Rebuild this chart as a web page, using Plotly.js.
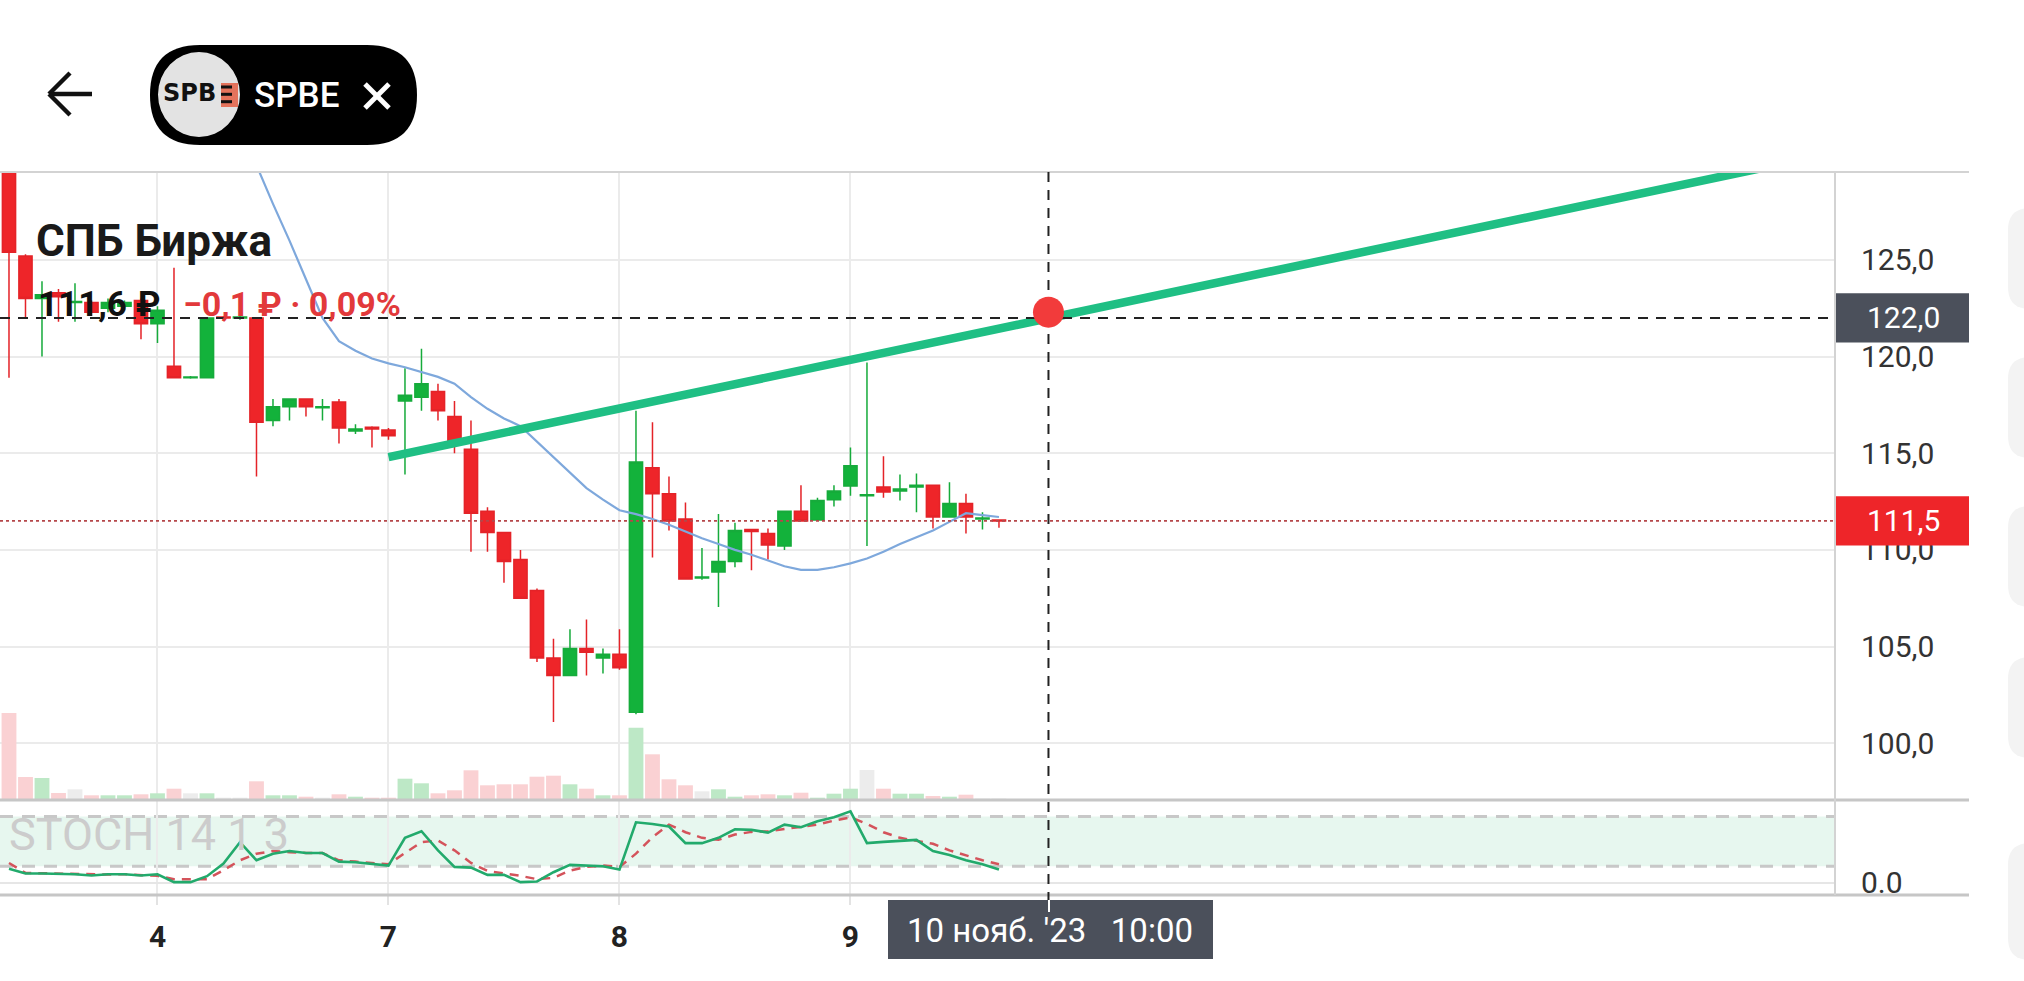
<!DOCTYPE html>
<html>
<head>
<meta charset="utf-8">
<script src="https://cdn.plot.ly/plotly-3.0.1.min.js"></script>
<style>
html,body{margin:0;padding:0;background:#fff;}
#chart{width:2024px;height:981px;}
</style>
</head>
<body>
<div id="chart"></div>
<script>
// ---------- DATA ----------
const candleIdx = [-9,-8,-7,-6,-5,-4,-3,-2,-1,0,1,2,3,4,5,6,7,8,9,10,11,12,13,14,15,16,17,18,19,20,21,22,23,24,25,26,27,28,29,30,31,32,33,34,35,36,37,38,39,40,41,42,43,44,45,46,47,48,49,50,51];
const openP  = [131.5,125.2,123.0,123.3,122.8,122.8,122.5,122.6,122.9,121.7,119.5,118.9,118.9,122.05,122.0,122.0,116.7,117.4,117.8,117.35,117.65,116.15,116.35,116.2,117.7,117.9,118.2,116.9,115.2,112.0,110.9,109.5,107.9,104.4,103.5,104.9,104.4,104.6,101.6,114.25,112.9,111.6,108.55,108.85,109.4,111.05,110.85,110.2,112.0,111.55,112.6,113.3,112.8,113.25,113.05,113.25,113.35,111.7,112.4,111.6,111.55];
const highP  = [132.0,125.3,123.9,123.5,123.8,122.9,123.0,122.9,123.0,122.6,124.6,119.0,122.0,122.1,122.1,122.0,117.8,117.8,117.8,117.8,117.8,116.5,116.4,116.3,119.4,120.4,118.6,117.7,116.7,112.2,110.9,110.0,108.0,105.4,105.9,106.4,104.9,105.9,117.2,116.6,113.8,112.45,110.1,111.85,111.4,111.05,111.1,112.0,113.35,112.7,113.35,115.3,119.7,114.85,113.9,113.95,113.35,113.5,112.9,111.95,111.55];
const lowP   = [118.9,122.0,120.0,121.8,121.8,122.1,122.3,122.4,120.9,120.7,118.9,118.85,118.9,121.9,121.9,113.8,116.4,116.7,116.9,116.7,115.5,116.0,115.3,115.7,113.9,117.2,116.7,115.0,109.9,109.9,108.3,107.5,104.2,101.1,103.5,103.5,103.6,103.8,101.5,109.6,111.0,108.5,108.45,107.05,109.1,108.95,109.5,110.0,111.5,111.5,112.25,112.8,110.2,112.7,112.55,111.95,111.1,111.7,110.85,111.05,111.15];
const closeP = [125.4,123.0,123.2,123.1,122.85,122.3,122.8,122.8,121.7,122.4,118.9,118.95,122.0,122.0,122.05,116.6,117.4,117.8,117.4,117.4,116.3,116.25,116.25,115.9,118.0,118.6,117.2,115.5,111.9,110.9,109.4,107.5,104.4,103.5,104.9,104.7,104.6,103.9,114.55,112.9,111.5,108.5,108.6,109.4,111.0,110.95,110.25,112.0,111.5,112.55,113.05,114.35,112.85,113.0,113.15,113.35,111.7,112.4,111.7,111.65,111.5];
const volume = [87,23,22,7,10.7,4.7,4.7,4.7,5.7,6.7,11.3,6.7,6.7,2.3,2.3,18.7,4.7,4.7,3.3,2.3,5.7,3.3,2.3,2.3,21.3,16.7,6.7,9.7,29.7,14.7,15.7,15.7,23.3,24.3,15.7,11.3,4.7,4.7,72.3,45.7,20.7,14.7,8.7,10.7,3.3,4.7,5.7,4.7,7.3,2.3,6.3,11.3,30,11.3,6.3,6.3,4,3.3,5.3,1.5,1.5];
const stochK = [17,11.2,11.2,11.2,10.4,8.8,10.4,10.4,8.8,10.4,0.8,0.8,8.0,23.2,49.1,27.2,35.2,38.4,36.0,36.0,25.6,24.8,22.4,20.8,54.3,62.3,39.2,19.2,18.4,9.6,9.6,0.8,1.6,12.8,21.6,20.8,20.0,16.0,73.1,71.1,67.9,47.9,47.9,54.3,64.7,63.9,60.7,70.3,67.1,74.3,79.1,86.3,47.9,49.5,50.3,51.9,38.4,33.5,27.2,22.4,16.0];
const stochD = [24,12.0,11.6,11.2,10.4,9.6,10.0,10.4,9.6,8.4,4.4,4.4,4.4,15.2,27.2,35.2,38.4,37.0,36.0,36.0,27.2,25.6,24.0,22.4,36.0,49.1,51.1,39.2,24.0,14.4,11.2,8.4,4.4,6.0,14.8,19.2,20.8,19.2,35.2,55.1,70.3,61.1,54.3,51.9,58.3,61.5,62.3,65.1,67.1,70.3,75.1,79.1,71.1,61.1,54.3,51.1,47.1,39.2,33.2,27.2,22.4];
const maIdx = [5,6,7,8,9,10,11,12,13,14,15,16,17,18,19,20,21,22,23,24,25,26,27,28,29,30,31,32,33,34,35,36,37,38,39,40,41,42,43,44,45,46,47,48,49,50,51];
const maVal = [131.8,129.9,127.9,126.0,124.0,122.0,120.8,120.3,119.9,119.65,119.45,119.2,118.95,118.6,117.9,117.3,116.8,116.4,115.6,114.85,114.0,113.2,112.6,112.05,111.85,111.6,111.3,110.95,110.6,110.3,110.0,109.75,109.45,109.15,108.97,108.97,109.1,109.3,109.55,109.9,110.3,110.65,111.0,111.45,111.9,111.8,111.7];
const trendIdx = [14, 100];
const trendVal = [114.8, 130.25];
const crossIdx = 54;
const crossPrice = 122.0;
const alertDotPrice = 122.3;
const lastPrice = 111.5;
const dayTickIdx = [0, 14, 28, 42];
const dayLabels = ['4', '7', '8', '9'];
const priceTicks = [100, 105, 110, 115, 120, 125];
const priceTickText = ['100,0', '105,0', '110,0', '115,0', '120,0', '125,0'];
const stochTicks = [0];
const stochTickText = ['0.0'];
const stochBands = [20, 80];
const titleText = 'СПБ Биржа';
const priceText = '111,6 ₽';
const changeText = '−0,1 ₽ · 0,09%';
const tickerText = 'SPBE';
const logoText = 'SPB';
const stochLabel = 'STOCH 14 1 3';
const crossDateText = "10 нояб. '23   10:00";
const crossPriceText = '122,0';
const lastPriceText = '111,5';

// ---------- LAYOUT HELPERS (pixel -> paper) ----------
const L = 0, R = 1835, T = 172, B = 895;
const px = x => (x - L) / (R - L);
const py = y => (B - y) / (B - T);
const dSplit = py(800);
const F = 'Roboto, "Noto Sans", sans-serif';

function rr(x0, y0, x1, y1, r) {
  const P = (x, y) => px(x).toFixed(5) + ',' + py(y).toFixed(5);
  return 'M' + P(x0 + r, y0) + ' L' + P(x1 - r, y0) + ' Q' + P(x1, y0) + ' ' + P(x1, y0 + r) +
    ' L' + P(x1, y1 - r) + ' Q' + P(x1, y1) + ' ' + P(x1 - r, y1) +
    ' L' + P(x0 + r, y1) + ' Q' + P(x0, y1) + ' ' + P(x0, y1 - r) +
    ' L' + P(x0, y0 + r) + ' Q' + P(x0, y0) + ' ' + P(x0 + r, y0) + ' Z';
}
function pline(x0, y0, x1, y1, color, width, dash) {
  return {type: 'line', xref: 'paper', yref: 'paper', x0: px(x0), x1: px(x1), y0: py(y0), y1: py(y1),
    line: {color: color, width: width, dash: dash || 'solid'}, layer: 'above'};
}
function prect(x0, y0, x1, y1, fill) {
  return {type: 'rect', xref: 'paper', yref: 'paper', x0: px(x0), x1: px(x1), y0: py(y1), y1: py(y0),
    fillcolor: fill, line: {width: 0}, layer: 'above'};
}

const volColors = candleIdx.map((_, i) => {
  const d = closeP[i] - openP[i];
  if (Math.abs(d) < 0.06) return '#ececec';
  return d > 0 ? '#bde8c6' : '#fad1d3';
});

// ---------- TRACES ----------
const traces = [
  {type: 'bar', x: candleIdx, y: volume, xaxis: 'x', yaxis: 'y',
   marker: {color: volColors, line: {width: 0}}, hoverinfo: 'skip'},
  {type: 'candlestick', x: candleIdx, open: openP, high: highP, low: lowP, close: closeP,
   xaxis: 'x', yaxis: 'y3', whiskerwidth: 0, hoverinfo: 'skip',
   increasing: {line: {color: '#16ab3b', width: 1.5}, fillcolor: '#13b23b'},
   decreasing: {line: {color: '#e42328', width: 1.5}, fillcolor: '#ee2529'}},
  {type: 'scatter', mode: 'lines', x: maIdx, y: maVal, xaxis: 'x', yaxis: 'y3',
   line: {color: '#7ea8dc', width: 2.2}, hoverinfo: 'skip'},
  {type: 'scatter', mode: 'lines', x: trendIdx, y: trendVal, xaxis: 'x', yaxis: 'y3',
   line: {color: '#1fbf84', width: 8.5}, hoverinfo: 'skip'},
  {type: 'scatter', mode: 'lines', x: candleIdx, y: stochD, xaxis: 'x', yaxis: 'y2',
   line: {color: '#d4535b', width: 2.5, dash: '9px,7px'}, hoverinfo: 'skip'},
  {type: 'scatter', mode: 'lines', x: candleIdx, y: stochK, xaxis: 'x', yaxis: 'y2',
   line: {color: '#22aa6c', width: 2.6}, hoverinfo: 'skip'}
];

// ---------- SHAPES ----------
const shapes = [
  {type: 'rect', xref: 'paper', yref: 'y2', x0: 0, x1: 1, y0: stochBands[0], y1: stochBands[1],
   fillcolor: '#e7f7ef', line: {width: 0}, layer: 'below'},
  {type: 'line', xref: 'paper', yref: 'y2', x0: 0, x1: 1, y0: stochBands[0], y1: stochBands[0],
   line: {color: '#c8c8c8', width: 3, dash: '13px,9px'}, layer: 'below'},
  {type: 'line', xref: 'paper', yref: 'y2', x0: 0, x1: 1, y0: stochBands[1], y1: stochBands[1],
   line: {color: '#c8c8c8', width: 3, dash: '13px,9px'}, layer: 'below'},
  {type: 'line', xref: 'paper', yref: 'y3', x0: 0, x1: 1, y0: lastPrice, y1: lastPrice,
   line: {color: '#b5474a', width: 1.6, dash: 'dot'}, layer: 'above'},
  pline(0, 172, 1969, 172, '#d3d3d3', 2),
  pline(0, 800, 1969, 800, '#c6c6c6', 3),
  pline(0, 895, 1969, 895, '#c6c6c6', 3),
  pline(1835, 172, 1835, 895, '#d3d3d3', 2),
  // crosshair
  {type: 'line', xref: 'paper', yref: 'y3', x0: 0, x1: 1, y0: crossPrice, y1: crossPrice,
   line: {color: '#222', width: 2, dash: '10px,8px'}, layer: 'above'},
  {type: 'line', xref: 'x', yref: 'paper', x0: crossIdx, x1: crossIdx, y0: py(172), y1: py(902),
   line: {color: '#222', width: 2, dash: '10px,8px'}, layer: 'above'},
  // alert dot on top of the crosshair
  {type: 'circle', xref: 'x', yref: 'y3', xsizemode: 'pixel', ysizemode: 'pixel',
   xanchor: crossIdx, yanchor: alertDotPrice, x0: -15.5, x1: 15.5, y0: -15.5, y1: 15.5,
   fillcolor: '#f23b3b', line: {width: 0}, layer: 'above'},
  // price boxes
  {type: 'rect', xref: 'paper', yref: 'y3', x0: px(1836), x1: px(1969), y0: crossPrice - 1.275, y1: crossPrice + 1.275,
   fillcolor: '#4b505b', line: {width: 0}, layer: 'above'},
  {type: 'rect', xref: 'paper', yref: 'y3', x0: px(1836), x1: px(1969), y0: lastPrice - 1.275, y1: lastPrice + 1.275,
   fillcolor: '#ee2529', line: {width: 0}, layer: 'above'},
  // date box
  prect(888, 900, 1213, 959, '#4b505b'),
  pline(1049, 900, 1049, 912, '#ffffff', 2),
  // header: back arrow
  pline(49, 94, 92, 94, '#111', 4.5),
  pline(49, 94, 70, 73, '#111', 4.5),
  pline(49, 94, 70, 115, '#111', 4.5),
  // pill + logo
  {type: 'path', xref: 'paper', yref: 'paper', path: rr(150, 45, 417, 145, 50),
   fillcolor: '#000', line: {width: 0}, layer: 'above'},
  {type: 'circle', xref: 'paper', yref: 'paper', x0: px(158), x1: px(240), y0: py(137), y1: py(52),
   fillcolor: '#e3e3e3', line: {width: 0}, layer: 'above'},
  prect(221, 83, 238, 107, '#e4735c'),
  prect(221, 85.5, 232, 88.5, '#111'),
  prect(221, 92.8, 232, 95.8, '#111'),
  prect(221, 100.2, 232, 103.2, '#111'),
  pline(365, 84, 389, 108, '#fff', 5),
  pline(389, 84, 365, 108, '#fff', 5),
  // right-edge faint panels
  {type: 'path', xref: 'paper', yref: 'paper', path: rr(2008, 208, 2070, 309, 22), fillcolor: '#f3f3f3', line: {width: 0}, layer: 'above'},
  {type: 'path', xref: 'paper', yref: 'paper', path: rr(2008, 357, 2070, 458, 22), fillcolor: '#f3f3f3', line: {width: 0}, layer: 'above'},
  {type: 'path', xref: 'paper', yref: 'paper', path: rr(2008, 506, 2070, 607, 22), fillcolor: '#f3f3f3', line: {width: 0}, layer: 'above'},
  {type: 'path', xref: 'paper', yref: 'paper', path: rr(2008, 657, 2070, 758, 22), fillcolor: '#f3f3f3', line: {width: 0}, layer: 'above'},
  {type: 'path', xref: 'paper', yref: 'paper', path: rr(2008, 843, 2070, 960, 22), fillcolor: '#f3f3f3', line: {width: 0}, layer: 'above'}
];

// ---------- ANNOTATIONS ----------
function ann(text, x, y, font, opts) {
  return Object.assign({text: text, xref: 'paper', yref: 'paper', x: px(x), y: py(y),
    xanchor: 'left', yanchor: 'middle', showarrow: false, font: font}, opts || {});
}
const annotations = [
  ann(titleText, 34, 241, {family: F, size: 44, color: '#1a1a1a', weight: 'bold'}),
  ann(priceText, 36, 304, {family: F, size: 35, color: '#111', weight: 'bold'}),
  ann(changeText, 181, 304, {family: F, size: 34, color: '#e2393b', weight: 'bold'}),
  ann(stochLabel, 7, 834, {family: F, size: 45, color: '#cccccc'}),
  {text: crossPriceText, xref: 'paper', yref: 'y3', x: px(1903), y: crossPrice, xanchor: 'center', yanchor: 'middle',
   showarrow: false, font: {family: F, size: 30, color: '#ffffff'}},
  {text: lastPriceText, xref: 'paper', yref: 'y3', x: px(1903), y: lastPrice, xanchor: 'center', yanchor: 'middle',
   showarrow: false, font: {family: F, size: 30, color: '#ffffff'}},
  ann(crossDateText, 1050, 930, {family: F, size: 33, color: '#ffffff'}, {xanchor: 'center'}),
  ann(logoText, 189, 93, {family: '"DejaVu Sans", sans-serif', size: 24, color: '#111', weight: 'bold'}, {xanchor: 'center'}),
  ann(tickerText, 252, 96, {family: F, size: 35, color: '#ffffff', weight: 500})
];

// ---------- LAYOUT ----------
const layout = {
  width: 2024, height: 981,
  margin: {l: L, r: 2024 - R, t: T, b: 981 - B, pad: 0},
  paper_bgcolor: '#ffffff', plot_bgcolor: 'rgba(0,0,0,0)',
  showlegend: false, hovermode: false,
  boxgap: 0.2, boxgroupgap: 0, bargap: 0.1,
  xaxis: {
    domain: [0, 1], anchor: 'y2', range: [-9.545, 101.67],
    tickvals: dayTickIdx, ticktext: dayLabels,
    showgrid: true, gridcolor: '#ebebeb', gridwidth: 2,
    ticks: 'outside', ticklen: 9, tickwidth: 2, tickcolor: '#e3e3e3',
    ticklabelstandoff: 6,
    tickfont: {family: F, size: 30, color: '#222', weight: 'bold'},
    zeroline: false, showline: false, rangeslider: {visible: false}, fixedrange: true
  },
  yaxis: {domain: [dSplit, 1], range: [0, 628], visible: false, fixedrange: true},
  yaxis3: {
    domain: [dSplit, 1], overlaying: 'y', side: 'right', anchor: 'x', range: [97.06, 129.55],
    tickvals: priceTicks, ticktext: priceTickText,
    showgrid: true, gridcolor: '#ebebeb', gridwidth: 2, zeroline: false, showline: false,
    ticks: '', ticklabelstandoff: 25,
    tickfont: {family: F, size: 30, color: '#333'}, fixedrange: true
  },
  yaxis2: {
    domain: [0, dSplit], anchor: 'x', side: 'right', range: [-14.7, 100],
    tickvals: stochTicks, ticktext: stochTickText,
    showgrid: true, gridcolor: '#e6e6e6', gridwidth: 2, zeroline: false, showline: false,
    ticks: '', ticklabelstandoff: 25,
    tickfont: {family: F, size: 30, color: '#333'}, fixedrange: true
  },
  shapes: shapes,
  annotations: annotations
};

Plotly.newPlot('chart', traces, layout, {staticPlot: true, displayModeBar: false});
</script>
</body>
</html>
